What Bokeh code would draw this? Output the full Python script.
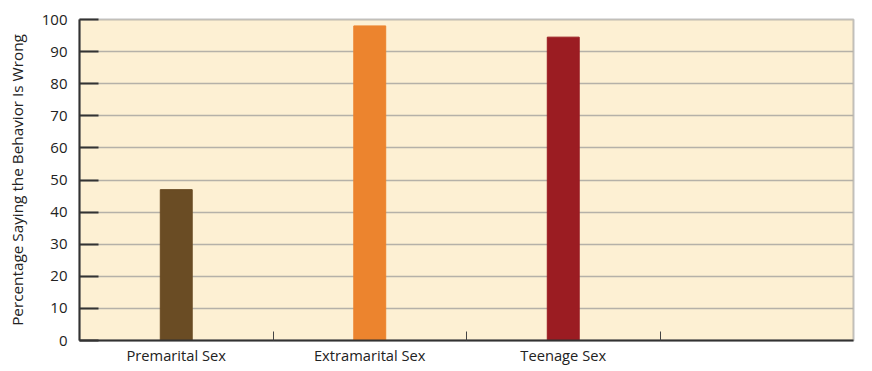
from bokeh.plotting import figure
from bokeh.models import FixedTicker, Range1d, ColumnDataSource
from bokeh.embed import file_html
from bokeh.resources import INLINE

categories = ["Premarital Sex", "Extramarital Sex", "Teenage Sex"]
values = [47, 98, 94.5]
colors = ["#6A4C24", "#EC842E", "#9B1C22"]
y_ticks = [0, 10, 20, 30, 40, 50, 60, 70, 80, 90, 100]
n_slots = 4

xs = [i + 0.5 for i in range(len(categories))]
src = ColumnDataSource(dict(x=xs, top=values, color=colors, cat=categories))

FONT = "Open Sans"

p = figure(width=872, height=371, output_backend="svg", toolbar_location=None,
           x_range=Range1d(0, n_slots), y_range=Range1d(0, 100),
           min_border_left=79, min_border_right=19, min_border_top=19,
           min_border_bottom=31)
p.background_fill_color = "#FDF0D3"
p.border_fill_color = "white"
p.outline_line_color = "#9a9a9a"
p.outline_line_width = 2
p.outline_line_alpha = 0.6

p.vbar(x="x", top="top", bottom=0, width=0.165, color="color", source=src)

# x axis
p.xaxis.ticker = FixedTicker(ticks=xs, minor_ticks=list(range(1, n_slots)))
p.xaxis.major_label_overrides = {x: c for x, c in zip(xs, categories)}
p.xaxis.major_tick_line_color = None
p.xaxis.major_tick_in = 0
p.xaxis.major_tick_out = 0
p.xaxis.minor_tick_in = 9
p.xaxis.minor_tick_out = 0
p.xaxis.minor_tick_line_color = "#444444"
p.xaxis.axis_line_color = "#333333"
p.xaxis.axis_line_width = 2
p.xaxis.major_label_text_font = FONT
p.xaxis.major_label_text_font_size = "14.7px"
p.xaxis.major_label_text_color = "#222222"
p.xaxis.major_label_standoff = 4

# y axis
p.yaxis.ticker = FixedTicker(ticks=y_ticks)
p.yaxis.major_tick_in = 19
p.yaxis.major_tick_out = 0
p.yaxis.major_tick_line_color = "#333333"
p.yaxis.major_tick_line_width = 2
p.yaxis.minor_tick_line_color = None
p.yaxis.axis_line_color = "#333333"
p.yaxis.axis_line_width = 2
p.yaxis.major_label_text_font = FONT
p.yaxis.major_label_text_font_size = "15px"
p.yaxis.major_label_text_color = "#222222"
p.yaxis.major_label_standoff = 12
p.yaxis.axis_label = "Percentage Saying the Behavior Is Wrong"
p.yaxis.axis_label_text_font = FONT
p.yaxis.axis_label_text_font_size = "15.3px"
p.yaxis.axis_label_text_font_style = "normal"
p.yaxis.axis_label_text_color = "#222222"
p.yaxis.axis_label_standoff = 12

p.xgrid.grid_line_color = None
p.ygrid.ticker = FixedTicker(ticks=y_ticks)
p.ygrid.grid_line_color = "#b5b1a8"
p.ygrid.grid_line_width = 1.5

open("out.html", "w").write(file_html(p, INLINE))
